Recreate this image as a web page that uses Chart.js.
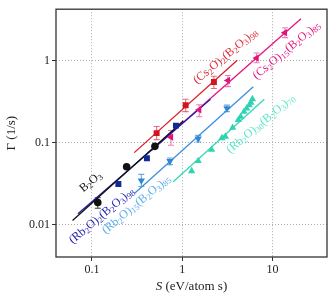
<!DOCTYPE html>
<html>
<head>
<meta charset="utf-8">
<script src="https://cdn.jsdelivr.net/npm/chart.js@4.4.0/dist/chart.umd.min.js"></script>
<style>
  html, body { margin: 0; padding: 0; background: #fff; }
</style>
</head>
<body>
<canvas id="grafico" width="335" height="296"></canvas>
<script>
// ticks dos eixos (log)
const xTicks = [0.1, 1, 10];
const yTicks = [0.01, 0.1, 1];

// B2O3
const b2o3X = [0.116, 0.242, 0.498];
const b2o3Y = [0.0186, 0.0508, 0.0903];
const b2o3Lo = [0.0158, null, null];
const b2o3Hi = [0.0212, null, null];
const b2o3FitX = [0.061, 1.03];
const b2o3FitY = [0.0112, 0.186];

// (Rb2O)2(B2O3)98
const rb2X = [0.196, 0.406, 0.851];
const rb2Y = [0.0313, 0.0646, 0.162];
const rb2FitX = [0.07, 2.05];
const rb2FitY = [0.0135, 0.34];

// (Cs2O)2(B2O3)98
const cs2X = [0.52, 1.09, 2.24];
const cs2Y = [0.131, 0.288, 0.552];
const cs2Lo = [0.109, 0.24, 0.46];
const cs2Hi = [0.158, 0.34, 0.65];
const cs2FitX = [0.294, 4.06];
const cs2FitY = [0.0757, 1.02];

// (Cs2O)15(B2O3)85
const cs15X = [0.75, 1.54, 3.2, 6.65, 13.7];
const cs15Y = [0.117, 0.253, 0.578, 1.087, 2.22];
const cs15Lo = [0.093, 0.208, 0.485, 0.95, 1.93];
const cs15Hi = [0.141, 0.291, 0.665, 1.25, 2.55];
const cs15FitX = [0.458, 20.6];
const cs15FitY = [0.0809, 3.28];

// (Rb2O)15(B2O3)85
const rb15X = [0.352, 0.73, 1.50, 3.12];
const rb15Y = [0.0344, 0.0594, 0.112, 0.263];
const rb15Lo = [0.0291, 0.054, 0.102, 0.24];
const rb15Hi = [0.041, 0.065, 0.123, 0.288];
const rb15FitX = [0.299, 6.11];
const rb15FitY = [0.0242, 0.484];

// (Rb2O)30(B2O3)70
const rb30X = [1.27, 1.50, 2.11, 2.75, 3.0, 3.61, 4.17, 4.43, 4.82, 5.16, 5.51, 5.75, 5.98];
const rb30Y = [0.045, 0.060, 0.082, 0.114, 0.119, 0.153, 0.19, 0.208, 0.24, 0.263, 0.288, 0.31, 0.342];
const rb30FitX = [0.795, 8.09];
const rb30FitY = [0.0334, 0.34];

const pts = (xs, ys) => xs.map((x, i) => ({ x: x, y: ys[i] }));

// series: marcador, cor, barras de erro
const series = [
  { x: b2o3X, y: b2o3Y, lo: b2o3Lo, hi: b2o3Hi, fx: b2o3FitX, fy: b2o3FitY, cor: '#111111', corLinha: '#111111', corErro: 'rgba(17,17,17,0.8)', estilo: 'circle', rot: 0, r: 3.8 },
  { x: rb2X, y: rb2Y, fx: rb2FitX, fy: rb2FitY, cor: '#0f2a94', corLinha: '#2121b0', estilo: 'rect', rot: 0, r: 4.2 },
  { x: cs2X, y: cs2Y, lo: cs2Lo, hi: cs2Hi, fx: cs2FitX, fy: cs2FitY, cor: '#d3141f', corLinha: '#dc1c28', corErro: 'rgba(224,60,80,0.75)', estilo: 'rect', rot: 0, r: 4.2 },
  { x: cs15X, y: cs15Y, lo: cs15Lo, hi: cs15Hi, fx: cs15FitX, fy: cs15FitY, cor: '#e0137a', corLinha: '#e4157f', corErro: 'rgba(232,80,150,0.75)', estilo: 'triangle', rot: 270, r: 4.2 },
  { x: rb15X, y: rb15Y, lo: rb15Lo, hi: rb15Hi, fx: rb15FitX, fy: rb15FitY, cor: '#2f86d6', corLinha: '#3a90dc', corErro: 'rgba(60,140,215,0.75)', estilo: 'triangle', rot: 180, r: 4.2 },
  { x: rb30X, y: rb30Y, fx: rb30FitX, fy: rb30FitY, cor: '#2fd3b0', corLinha: '#33d8b6', estilo: 'triangle', rot: 0, r: 4.2 }
];

// rótulos das séries (posição em coordenadas de dados)
const rotulos = [
  { txt: 'B_2O_3', x: 0.097, y: 0.033, cor: '#111111' },
  { txt: '(Rb_2O)_2(B_2O_3)_98', x: 0.128, y: 0.0128, cor: '#2323b0' },
  { txt: '(Rb_2O)_15(B_2O_3)_85', x: 0.31, y: 0.0175, cor: '#5aaee8' },
  { txt: '(Cs_2O)_2(B_2O_3)_98', x: 3.0, y: 1.14, cor: '#e02838' },
  { txt: '(Cs_2O)_15(B_2O_3)_85', x: 14.3, y: 1.35, cor: '#e4157f' },
  { txt: '(Rb_2O)_30(B_2O_3)_70', x: 7.4, y: 0.17, cor: '#5ae6c8' }
];

const FONTE = '"Liberation Serif", "DejaVu Serif", serif';

function partes(txt) {
  const out = [];
  let i = 0, buf = '';
  while (i < txt.length) {
    if (txt[i] === '_') {
      if (buf) { out.push([buf, false]); buf = ''; }
      i++;
      let d = '';
      while (i < txt.length && /\d/.test(txt[i])) { d += txt[i]; i++; }
      out.push([d, true]);
    } else {
      buf += txt[i]; i++;
    }
  }
  if (buf) out.push([buf, false]);
  return out;
}

const datasets = [];
series.forEach(s => {
  datasets.push({
    type: 'scatter',
    data: pts(s.x, s.y),
    backgroundColor: s.cor,
    borderColor: s.cor,
    pointStyle: s.estilo,
    rotation: s.rot,
    pointRadius: s.r,
    borderWidth: 0,
    order: 1
  });
  datasets.push({
    type: 'line',
    data: pts(s.fx, s.fy),
    borderColor: s.corLinha,
    borderWidth: 1.3,
    pointRadius: 0,
    fill: false,
    order: 2
  });
});

const pluginExtras = {
  id: 'extras',
  beforeDatasetsDraw(chart) {
    const { ctx, scales: { x, y } } = chart;
    ctx.save();
    series.forEach(s => {
      if (!s.lo) return;
      ctx.strokeStyle = s.corErro;
      ctx.lineWidth = 1.1;
      s.x.forEach((v, i) => {
        if (s.lo[i] == null) return;
        const px = x.getPixelForValue(v);
        const y1 = y.getPixelForValue(s.lo[i]);
        const y2 = y.getPixelForValue(s.hi[i]);
        ctx.beginPath();
        ctx.moveTo(px, y1); ctx.lineTo(px, y2);
        ctx.moveTo(px - 3, y1); ctx.lineTo(px + 3, y1);
        ctx.moveTo(px - 3, y2); ctx.lineTo(px + 3, y2);
        ctx.stroke();
      });
    });
    ctx.restore();
  },
  afterDraw(chart) {
    const { ctx, chartArea: a, scales: { x, y } } = chart;
    ctx.save();
    // moldura
    ctx.strokeStyle = '#333';
    ctx.lineWidth = 1.3;
    ctx.strokeRect(a.left, a.top, a.right - a.left, a.bottom - a.top);

    // rótulos girados
    rotulos.forEach(r => {
      const segs = partes(r.txt);
      let w = 0;
      segs.forEach(([t, sub]) => {
        ctx.font = (sub ? '8.5px ' : '12px ') + FONTE;
        w += ctx.measureText(t).width;
      });
      ctx.save();
      ctx.translate(x.getPixelForValue(r.x), y.getPixelForValue(r.y));
      ctx.rotate(-40 * Math.PI / 180);
      ctx.fillStyle = r.cor;
      ctx.textBaseline = 'middle';
      let cx = -w / 2;
      segs.forEach(([t, sub]) => {
        ctx.font = (sub ? '8.5px ' : '12px ') + FONTE;
        ctx.fillText(t, cx, sub ? 3 : 0);
        cx += ctx.measureText(t).width;
      });
      ctx.restore();
    });

    // títulos dos eixos
    ctx.fillStyle = '#222';
    ctx.textBaseline = 'middle';
    ctx.font = 'italic 13px ' + FONTE;
    const sW = ctx.measureText('S').width;
    ctx.font = '13px ' + FONTE;
    const restoW = ctx.measureText(' (eV/atom s)').width;
    let tx = (a.left + a.right) / 2 - (sW + restoW) / 2;
    ctx.textAlign = 'left';
    ctx.font = 'italic 13px ' + FONTE;
    ctx.fillText('S', tx, 287);
    ctx.font = '13px ' + FONTE;
    ctx.fillText(' (eV/atom s)', tx + sW, 287);

    ctx.translate(12, (a.top + a.bottom) / 2);
    ctx.rotate(-Math.PI / 2);
    ctx.textAlign = 'center';
    ctx.fillText('Γ (1/s)', 0, 0);
    ctx.restore();
  }
};

const eixoComum = {
  type: 'logarithmic',
  border: { display: false, dash: [1, 2] },
  grid: {
    color: '#adadad',
    lineWidth: 1,
    tickColor: '#333',
    tickLength: 4,
    tickWidth: 1,
    tickBorderDash: []
  },
  ticks: {
    color: '#222',
    font: { family: FONTE, size: 12 },
    callback: v => String(v)
  }
};

new Chart(document.getElementById('grafico').getContext('2d'), {
  data: { datasets: datasets },
  options: {
    responsive: false,
    animation: false,
    layout: { padding: { top: 6, right: 8, left: 0, bottom: 0 } },
    plugins: { legend: { display: false }, tooltip: { enabled: false } },
    scales: {
      x: {
        ...eixoComum,
        min: 0.04, max: 40,
        afterBuildTicks: s => { s.ticks = xTicks.map(v => ({ value: v })); },
        afterFit: s => { s.height = 39; },
        ticks: { ...eixoComum.ticks, padding: 2, maxRotation: 0 }
      },
      y: {
        ...eixoComum,
        min: 0.004, max: 4.3,
        afterBuildTicks: s => { s.ticks = yTicks.map(v => ({ value: v })); },
        afterFit: s => { s.width = 56; },
        ticks: { ...eixoComum.ticks, padding: 2 }
      }
    }
  },
  plugins: [pluginExtras]
});
</script>
</body>
</html>
